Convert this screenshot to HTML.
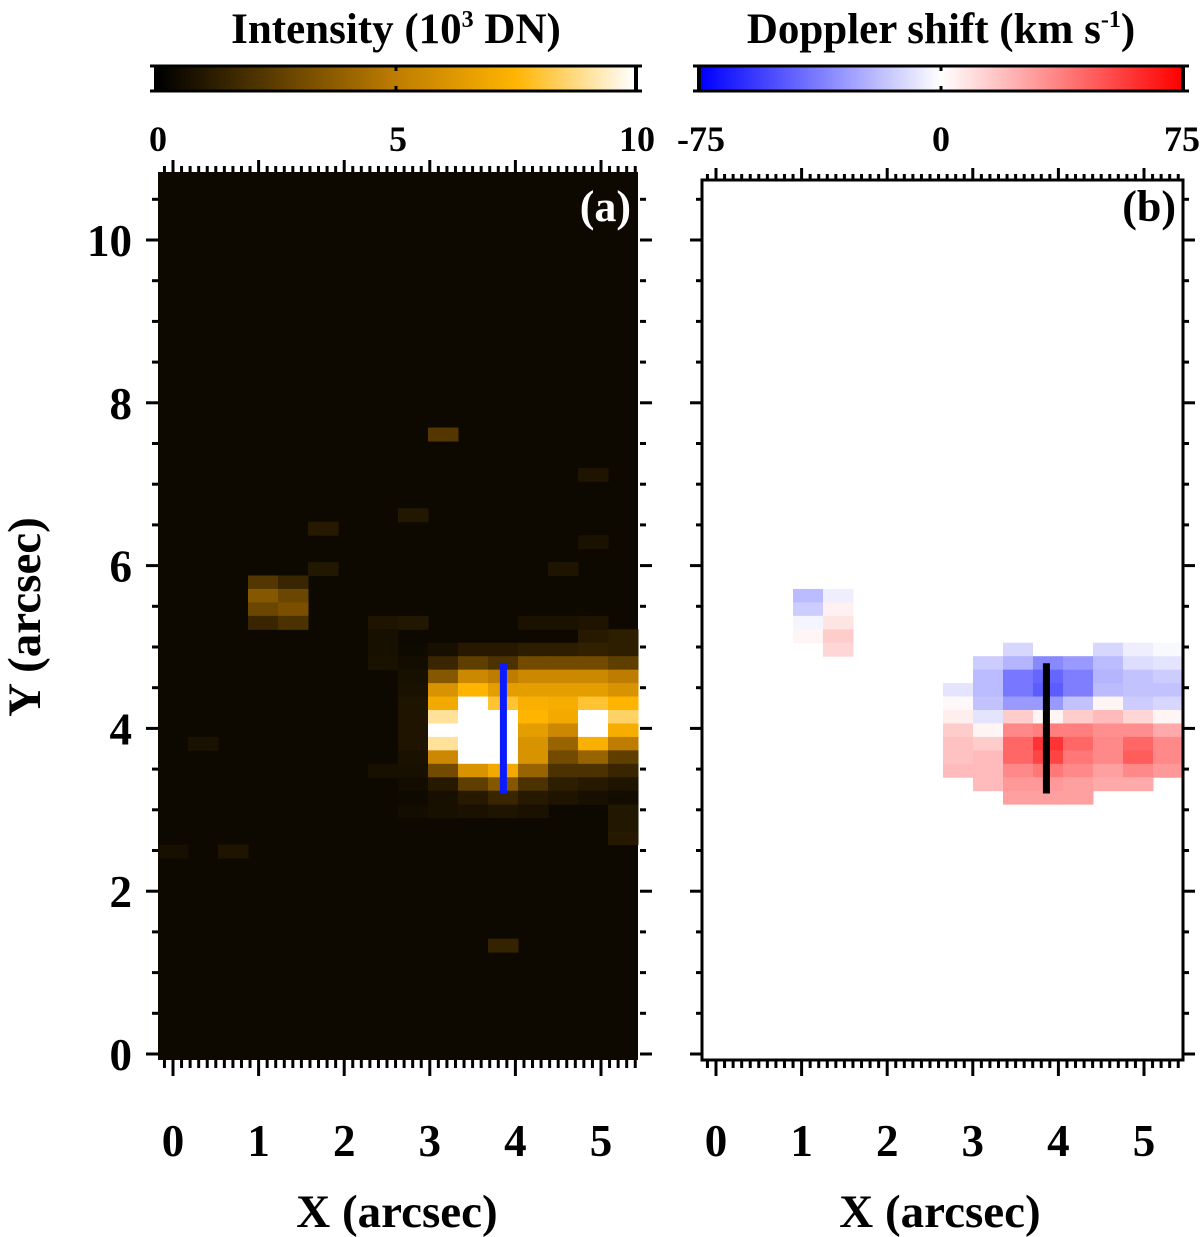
<!DOCTYPE html>
<html><head><meta charset="utf-8"><style>
html,body{margin:0;padding:0;background:#fff;}
svg{display:block;font-family:"Liberation Serif",serif;font-weight:bold;}
</style></head><body>
<svg id="fig" width="1200" height="1237" viewBox="0 0 1200 1237" xmlns="http://www.w3.org/2000/svg">
<defs>
<linearGradient id="gInt" x1="0" x2="1" y1="0" y2="0">
<stop offset="0" stop-color="#000"/><stop offset="0.5" stop-color="#be7d00"/><stop offset="0.75" stop-color="#ffb400"/><stop offset="1" stop-color="#fff"/>
</linearGradient>
<linearGradient id="gDop" x1="0" x2="1" y1="0" y2="0">
<stop offset="0" stop-color="#0000ff"/><stop offset="0.5" stop-color="#fff"/><stop offset="1" stop-color="#ff0000"/>
</linearGradient>
</defs>
<g id="layer"></g>
</svg>
<script>
// ---- data ----
const intBackground = 0.35;
const intCols = 16, intRows = 66;
const intRowIdx = [35,36,37,38,39,40,41,42,43,44,45,46];
const intColIdx = [8,9,10,11,12,13,14,15];
const intValues = [
 [0.4,0.6,1,1,1.2,1.2,1.3,1.2],
 [0.5,1.5,2.5,2,3,3,3,2.5],
 [0.6,3.5,5.5,5,5.5,5.5,5.5,5],
 [0.7,6,7.5,6.5,6.5,6.5,6.5,6],
 [0.8,7,10,8,7.3,7.2,8,7.5],
 [0.8,9,10,10,7.5,7,10,8.5],
 [0.8,10,10,10,6.5,5.5,10,7.2],
 [0.8,9,10,10,6,4,7.3,5],
 [0.7,5.5,10,10,6,3,4,2.5],
 [0.6,3,6,7,4,2,2,1.5],
 [0.5,1,2.5,3.5,2,1.2,1,0.8],
 [0.4,0.6,1,1.5,1,0.8,0.6,0.5]
];
const intExtra = [[3,30,2.2],[4,30,1.5],[3,31,3.5],[4,31,2.8],[3,32,2.8],[4,32,3.2],[3,33,1.5],[4,33,2],
 [9,19,2.2],[11,57,1.4],[5,29,0.9],[8,25,0.9],[5,26,1],[14,22,0.8],[0,50,0.6],[1,42,0.7],[2,50,0.8],[13,29,0.8],[14,27,0.7],[15,49,1.0],[15,34,1.2],[14,34,1.0],[7,33,0.8],[8,33,0.9],
 [7,34,0.6],[7,35,0.6],[7,36,0.7],[7,44,0.6],[8,47,0.5],[9,47,0.6],[10,47,0.7],[11,47,0.8],[12,47,0.7],[15,47,0.9],[15,48,0.9],[14,33,0.8],[13,33,0.7],[12,33,0.7]];
const dopRowIdx = [35,36,37,38,39,40,41,42,43,44,45,46];
const dopColIdx = [8,9,10,11,12,13,14,15];
const dopValues = [
 [null,null,-12,0,0,-12,-5,-2],
 [null,-15,-22,-35,-30,-20,-10,-8],
 [null,-20,-40,-45,-38,-22,-18,-15],
 [-8,-20,-40,-48,-38,-20,-18,-18],
 [2,-18,-30,-30,-18,3,-15,-12],
 [5,-8,15,3,15,20,12,3],
 [15,3,35,38,38,33,33,25],
 [18,15,45,60,45,35,45,35],
 [18,20,45,55,40,35,48,35],
 [20,20,35,40,35,28,35,30],
 [null,20,30,30,28,25,25,null],
 [null,null,28,28,28,null,null,null]
];
const dopExtra = [[3,31,-20],[4,31,-5],[3,32,-15],[4,32,4],[3,33,-3],[4,33,8],[3,34,3],[4,34,15],[4,35,12]];
const xTicks = [0,1,2,3,4,5];
const yTicks = [0,2,4,6,8,10];
const cbIntTicks = ["0","5","10"];
const cbDopTicks = ["-75","0","75"];
const slitX = 3.86, slitY0 = 3.2, slitY1 = 4.8;

// ---- axes ----
const NS="http://www.w3.org/2000/svg";
const layer=document.getElementById('layer');
function el(t,a,p){const e=document.createElementNS(NS,t);for(const k in a)e.setAttribute(k,a[k]);(p||layer).appendChild(e);return e;}
const cellW=30, cellH=13.45, top0=172;
const panels=[{x0:158,xOrigin:173,name:'a'},{x0:703,xOrigin:716,name:'b'}];
function X(p,v){return p.xOrigin+85.6*v;}
function Y(v){return 1054-81.4*v;}
function lerp(a,b,t){return a+(b-a)*t;}
function intColor(v){
  const s=[[0,0,0,0],[5,190,125,0],[7.5,255,180,0],[10,255,255,255]];
  v=Math.max(0,Math.min(10,v));
  for(let i=0;i<3;i++){if(v<=s[i+1][0]){const t=(v-s[i][0])/(s[i+1][0]-s[i][0]);return `rgb(${Math.round(lerp(s[i][1],s[i+1][1],t))},${Math.round(lerp(s[i][2],s[i+1][2],t))},${Math.round(lerp(s[i][3],s[i+1][3],t))})`;}}
}
function dopColor(v){v=Math.max(-75,Math.min(75,v));const t=Math.abs(v)/75;const c=Math.round(255*(1-t));return v<0?`rgb(${c},${c},255)`:`rgb(255,${c},${c})`;}

const pa=panels[0], pb=panels[1];
el('rect',{x:pa.x0,y:top0,width:cellW*intCols,height:888,fill:intColor(intBackground),});
const gA=el('g',{});
function cellA(c,r,v){const e=el('rect',{x:pa.x0+c*cellW,y:top0+r*cellH,width:cellW+0.5,height:cellH+0.5,fill:intColor(v)},gA);

}
intExtra.forEach(d=>cellA(d[0],d[1],d[2]));
intRowIdx.forEach((r,i)=>intColIdx.forEach((c,j)=>cellA(c,r,intValues[i][j])));
el('rect',{x:pb.x0,y:180,width:480,height:880,fill:'#fff',});
const gB=el('g',{});
function cellB(c,r,v){if(v===null)return;const e=el('rect',{x:pb.x0+c*cellW,y:top0+r*cellH,width:cellW+0.5,height:cellH+0.5,fill:dopColor(v)},gB);

}
dopExtra.forEach(d=>cellB(d[0],d[1],d[2]));
dopRowIdx.forEach((r,i)=>dopColIdx.forEach((c,j)=>cellB(c,r,dopValues[i][j])));
el('rect',{x:702,y:180,width:481,height:880,fill:'none',stroke:'#000','stroke-width':3,});

el('line',{x1:X(pa,slitX),x2:X(pa,slitX),y1:Y(slitY1),y2:Y(slitY0),stroke:'#0a1cff','stroke-width':7,});
el('line',{x1:X(pb,slitX),x2:X(pb,slitX),y1:Y(slitY1),y2:Y(slitY0),stroke:'#000','stroke-width':7,});

panels.forEach((p,pi)=>{
  const L=p.x0-(pi?1:0), R=pi?1183:640, T=pi?180:172, B=1060;
  const g=el('g',{stroke:'#000','stroke-width':3,});
  for(let k=-1;k<=56;k++){const v=k/10;const x=X(p,v);if(x<L+1||x>R-1)continue;const maj=k%10===0;
    el('line',{x1:x,x2:x,y1:T,y2:T-(maj?12:6)},g);el('line',{x1:x,x2:x,y1:B,y2:B+(maj?16:8)},g);}
  for(let k=0;k<=21;k++){const v=k/2;const y=Y(v);const maj=k%4===0;
    el('line',{x1:L,x2:L-(maj?12:6),y1:y,y2:y},g);el('line',{x1:R,x2:R+(maj?12:6),y1:y,y2:y},g);}
  xTicks.forEach(v=>{const t=el('text',{x:X(p,v),y:1156,'text-anchor':'middle','font-size':45});t.textContent=v;
    
    });
  const xl=el('text',{x:(pi?940:397),y:1227,'text-anchor':'middle','font-size':47});xl.textContent='X (arcsec)';
  
  
});
yTicks.forEach(v=>{const t=el('text',{x:132,y:Y(v)+16,'text-anchor':'end','font-size':45});t.textContent=v;
  
  });
const yl=el('text',{x:0,y:0,transform:'translate(40,617) rotate(-90)','text-anchor':'middle','font-size':47});yl.textContent='Y (arcsec)';


const la=el('text',{x:631,y:221,'text-anchor':'end','font-size':44,fill:'#fff'});la.textContent='(a)';

const lb=el('text',{x:1176,y:221,'text-anchor':'end','font-size':44,fill:'#000'});lb.textContent='(b)';


function colorbar(x0,x1,grad,ticks,title,name,tx){
  const g=el('g',{});
  el('rect',{x:x0+8,y:67,width:x1-x0-16,height:23,fill:'url(#'+grad+')'},g);
  el('line',{x1:x0,x2:x1,y1:66,y2:66,stroke:'#000','stroke-width':3},g);
  el('line',{x1:x0,x2:x1,y1:91,y2:91,stroke:'#000','stroke-width':3},g);
  el('line',{x1:x0+6,x2:x0+6,y1:66,y2:91,stroke:'#000','stroke-width':4},g);
  el('line',{x1:x1-6,x2:x1-6,y1:66,y2:91,stroke:'#000','stroke-width':4},g);
  const mid=(x0+x1)/2;
  el('line',{x1:mid,x2:mid,y1:66,y2:71,stroke:'#000','stroke-width':3},g);
  el('line',{x1:mid,x2:mid,y1:86,y2:91,stroke:'#000','stroke-width':3},g);
  ticks.forEach((s,i)=>{const t=el('text',{x:tx[i],y:151,'text-anchor':'middle','font-size':36},g);t.textContent=s;
    
    });
  const tt=el('text',{x:mid,y:43,'text-anchor':'middle','font-size':43},g);tt.innerHTML=title;
}
colorbar(150,642,'gInt',cbIntTicks,'Intensity (10<tspan font-size="24" dy="-16">3</tspan><tspan dy="16"> DN)</tspan>','intensity-colorbar',[158,398,637]);
colorbar(693,1189,'gDop',cbDopTicks,'Doppler shift (km s<tspan font-size="24" dy="-16">-1</tspan><tspan dy="16">)</tspan>','doppler-colorbar',[701,941,1182]);
</script>
</body></html>
